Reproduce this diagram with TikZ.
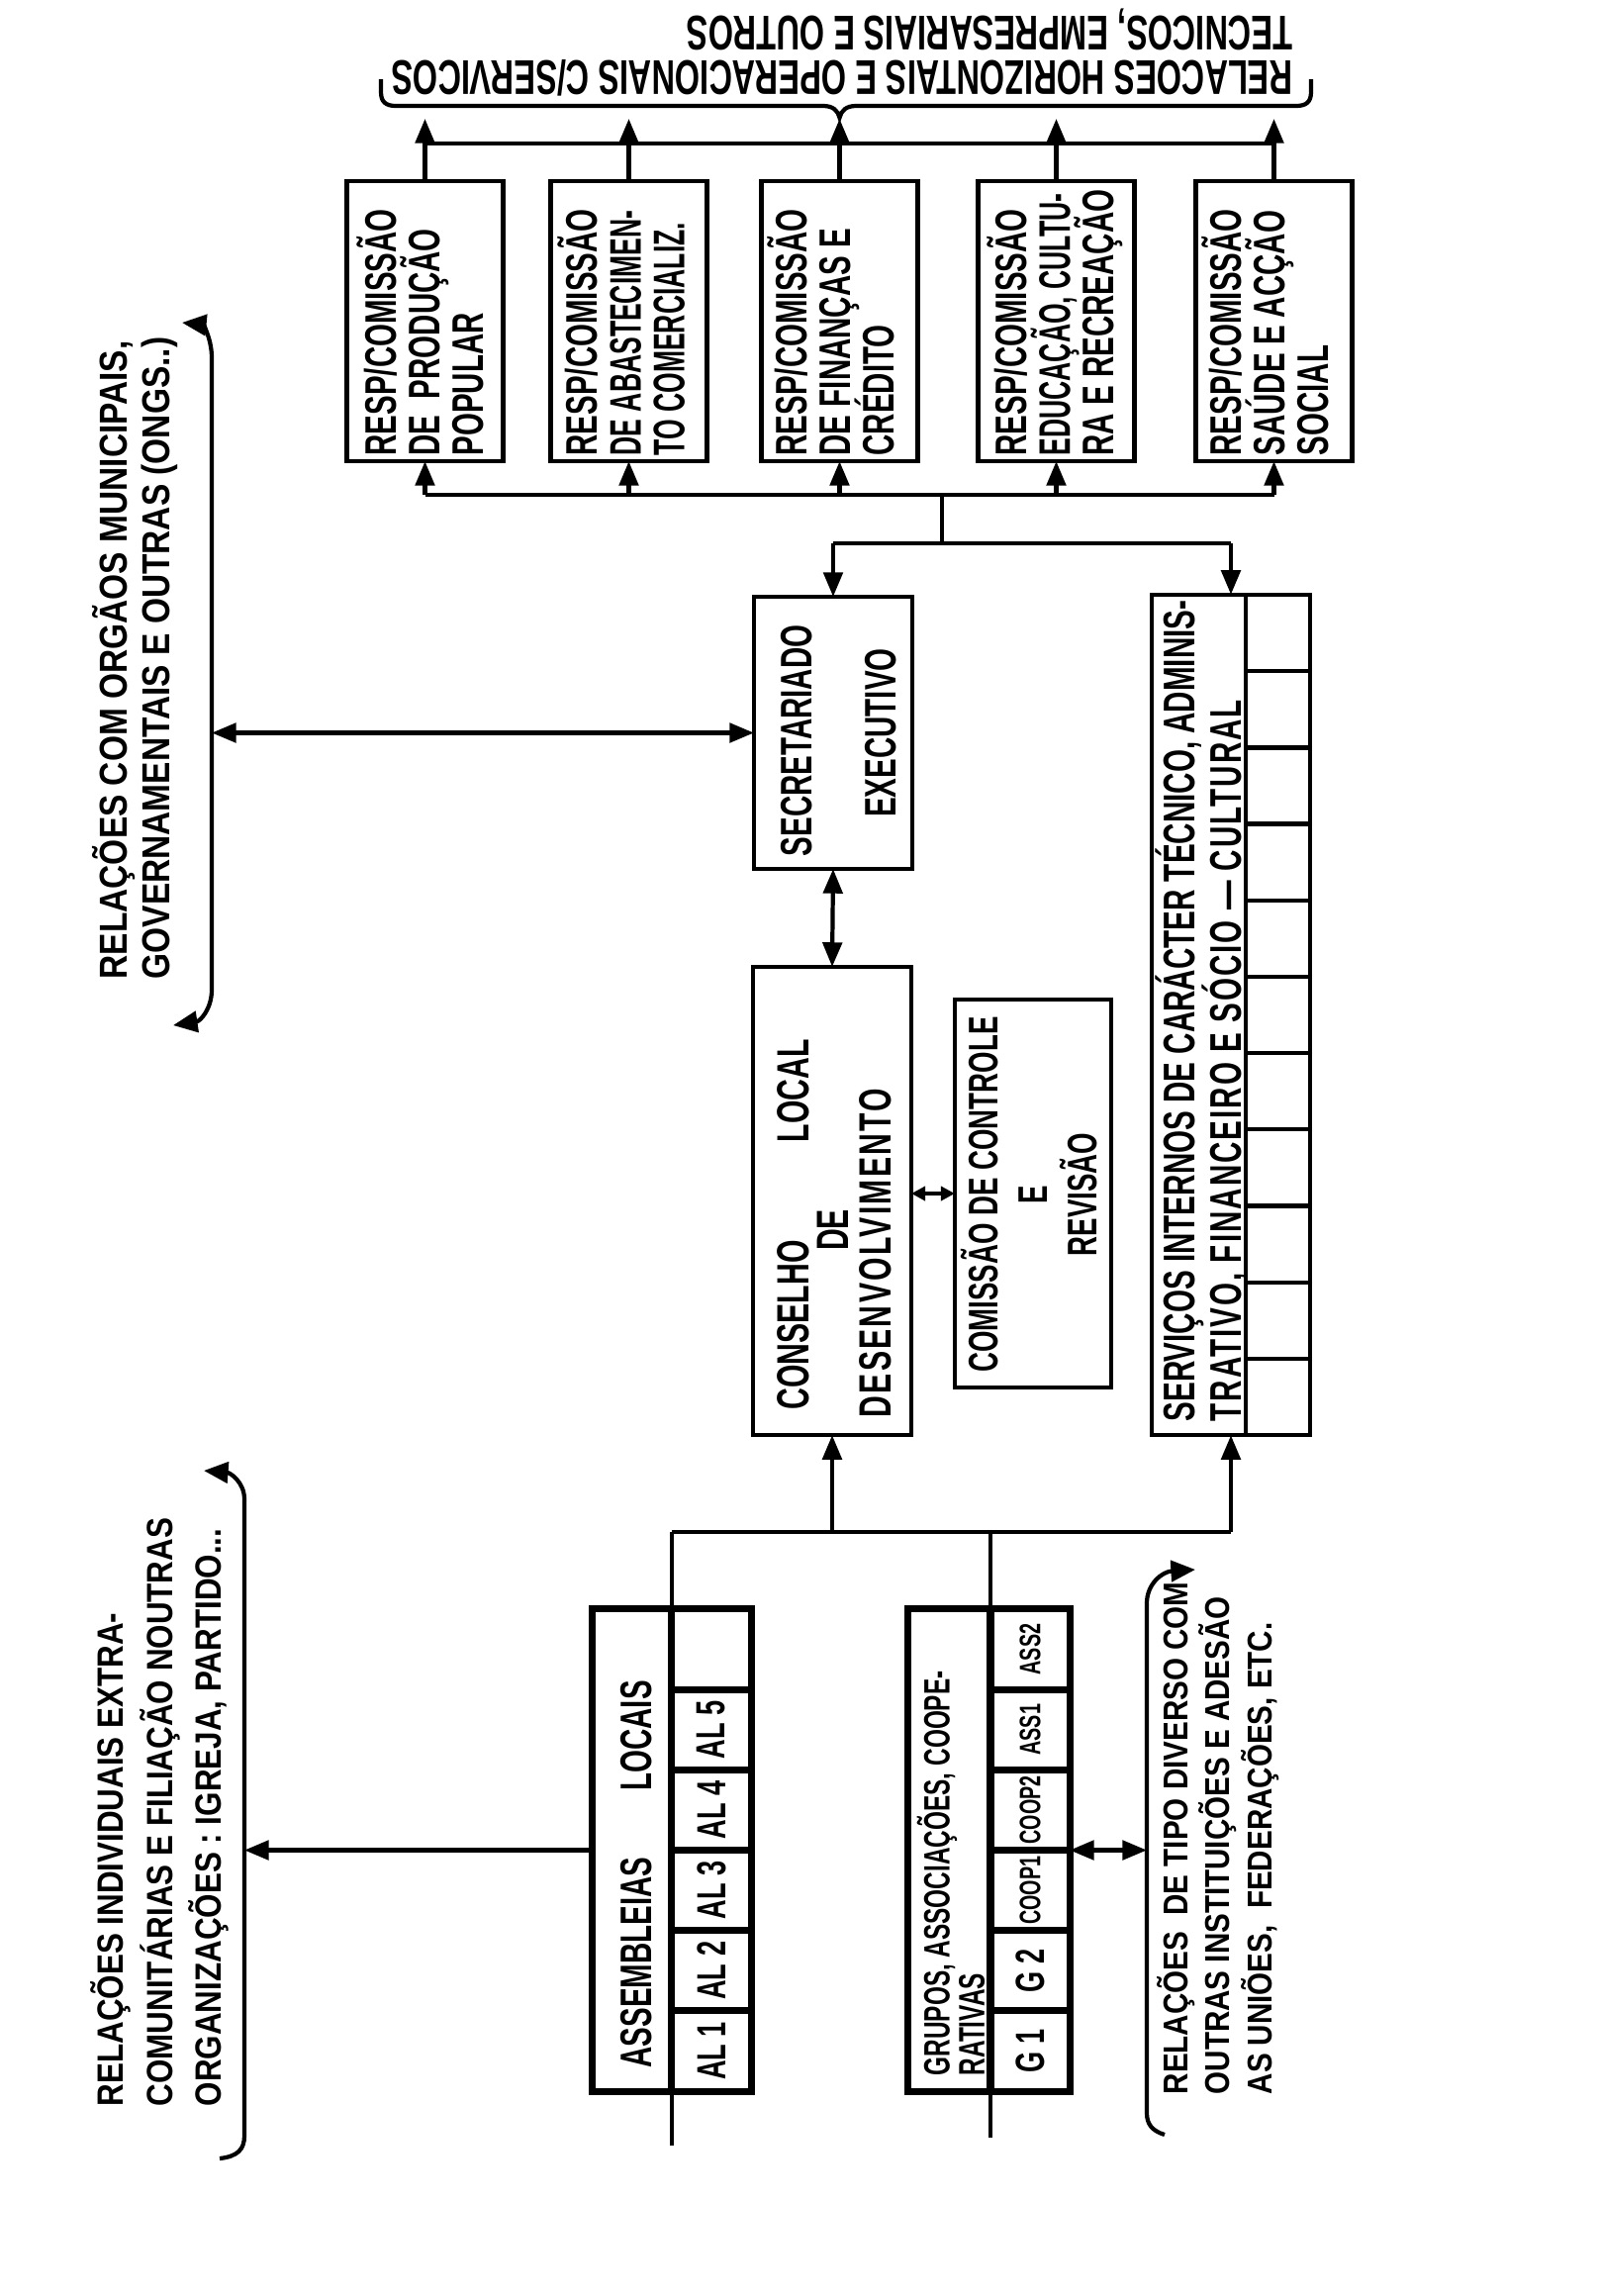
\documentclass[tikz,border=0pt]{standalone}
\usepackage{fontspec}
\setmainfont{Liberation Sans}[FakeStretch=0.66]
\newfontfamily\notefont{Liberation Sans}[FakeStretch=0.85]
\usetikzlibrary{arrows.meta}
\newcommand\tightlines{\lineskiplimit=-20pt\relax}

\begin{document}
\begin{tikzpicture}[x=0.01cm, y=-0.01cm,
    orgbox/.style={draw, line width=1.2pt, inner sep=0pt, outer sep=0pt},
    cellbox/.style={draw, line width=2pt, rotate=90, inner sep=0pt, outer sep=0pt, font=\fontsize{11.7}{12}\selectfont\bfseries},
    vlabel/.style={rotate=90, inner sep=0pt, align=left},
    lettering/.style 2 args={font=\fontsize{#1}{#2}\selectfont\bfseries\tightlines},
    notelettering/.style 2 args={font=\notefont\fontsize{#1}{#2}\selectfont\bfseries\tightlines},
    wire/.style={line width=1.2pt},
    link/.style={line width=1.2pt, -{Triangle[length=7pt,width=5.5pt]}},
    dlink/.style={line width=1.2pt, {Triangle[length=7pt,width=5.5pt]}-{Triangle[length=7pt,width=5.5pt]}}]
\useasboundingbox (0,0) rectangle (1616,2320);

\node[orgbox, minimum width=1.58cm, minimum height=2.83cm] (resp1) at (429.5,324.5) {};
\node[orgbox, minimum width=1.58cm, minimum height=2.83cm] (resp2) at (635.5,324.5) {};
\node[orgbox, minimum width=1.58cm, minimum height=2.83cm] (resp3) at (848.5,324.5) {};
\node[orgbox, minimum width=1.58cm, minimum height=2.83cm] (resp4) at (1067.5,324.5) {};
\node[orgbox, minimum width=1.58cm, minimum height=2.83cm] (resp5) at (1287.5,324.5) {};
\node[vlabel, lettering={12.7}{12.5}, anchor=west] (resp1txt) at (425,461) {RESP/COMISSÃO\\DE\ \ PRODUÇÃO\\POPULAR};
\node[vlabel, lettering={12.7}{12.5}, anchor=west] (resp2txt) at (628,461) {RESP/COMISSÃO\\\scalebox{0.9}[1]{DE ABASTECIMEN-}\\\scalebox{0.9}[1]{TO COMERCIALIZ.}};
\node[vlabel, lettering={12.7}{12.5}, anchor=west] (resp3txt) at (840,461) {RESP/COMISSÃO\\DE FINANÇAS E\\CRÉDITO};
\node[vlabel, lettering={12.7}{12.5}, anchor=west] (resp4txt) at (1066,461) {RESP/COMISSÃO\\\scalebox{0.9}[1]{EDUCAÇÃO, CULTU-}\\RA E RECREAÇÃO};
\node[vlabel, lettering={12.7}{12.5}, anchor=west] (resp5txt) at (1279,461) {RESP/COMISSÃO\\SAÚDE E ACÇÃO\\SOCIAL};

\node[orgbox, minimum width=1.6cm, minimum height=2.75cm] (secr) at (842,740.5) {};
\node[vlabel, lettering={12.7}{14}, anchor=west] (secrtxt) at (805,866) {SECRETARIADO};
\node[vlabel, lettering={12.7}{14}] (exectxt) at (890,740.5) {EXECUTIVO};

\node[orgbox, minimum width=1.6cm, minimum height=4.73cm] (cons) at (841,1213.5) {};
\node[vlabel, lettering={13}{14}, anchor=west] (constxt) at (802,1425) {CONSELHO};
\node[vlabel, lettering={13}{14}, anchor=west] (localtxt) at (802,1155) {LOCAL};
\node[vlabel, lettering={13}{14}] (detxt) at (842,1243) {DE};
\node[vlabel, lettering={13}{14}, anchor=west] (desentxt) at (885,1433) {\addfontfeature{LetterSpace=5}DESENVOLVIMENTO};

\node[orgbox, minimum width=1.58cm, minimum height=3.92cm] (comc) at (1044,1206) {};
\node[vlabel, align=center, lettering={11.9}{14.2}] (comctxt) at (1040,1207) {COMISSÃO DE CONTROLE\\E\\REVISÃO};

\node[orgbox, minimum width=1.6cm, minimum height=8.49cm] (serv) at (1244,1025.5) {};
\foreach \i in {1,...,11}
    \node[cellbox, line width=1.2pt, minimum width=0.7718cm, minimum height=0.65cm] (sc\i) at (1291.5,{601+77.18*(\i-0.5)}) {};
\node[vlabel, lettering={12.75}{13.4}, anchor=west] (servtxt) at (1214.5,1437) {SERVIÇOS INTERNOS DE CARÁCTER TÉCNICO, ADMINIS-\\{\addfontfeature{LetterSpace=4.5}TRATIVO, FINANCEIRO E SÓCIO — CULTURAL}};

\node[orgbox, line width=2pt, minimum width=1.6cm, minimum height=4.87cm] (asm) at (679,1869.5) {};
\foreach \lbl [count=\i] in {AL 1,AL 2,AL 3,AL 4,AL 5,{}}
    \node[cellbox, minimum width=0.8117cm, minimum height=0.8cm] (al\i) at (719,{2113-81.17*(\i-0.5)}) {\lbl};
\node[vlabel, lettering={12.7}{14}, anchor=west] (asmtxt) at (643,2090) {ASSEMBLEIAS\hspace{19pt}LOCAIS};

\node[orgbox, line width=2pt, minimum width=1.63cm, minimum height=4.87cm] (grp) at (999.5,1869.5) {};
\foreach \lbl/\sz [count=\i] in {G 1/11.7,G 2/11.7,COOP1/8.5,COOP2/8.5,ASS1/8.5,ASS2/8.5}
    \node[cellbox, minimum width=0.8117cm, minimum height=0.8cm, font=\fontsize{\sz}{\sz}\selectfont\bfseries] (g\i) at (1041,{2113-81.17*(\i-0.5)}) {\lbl};
\node[vlabel, lettering={10.5}{10}, anchor=west] (grptxt) at (961,2098) {GRUPOS, ASSOCIAÇÕES, COOPE-\\RATIVAS};

\node[inner sep=0pt, align=left, rotate=180, anchor=north west, lettering={14}{12.8}] (toptxt) at (1307,98) {RELACOES HORIZONTAIS E OPERACIONAIS C/SERVICOS\\TECNICOS, EMPRESARIAIS E OUTROS};
\node[vlabel, notelettering={11.2}{12.2}, anchor=west] (govtxt) at (136.5,990) {RELAÇÕES COM ORGÃOS MUNICIPAIS,\\GOVERNAMENTAIS E OUTRAS (ONGS..)};
\node[vlabel, notelettering={10.5}{14.1}, anchor=west] (indtxt) at (161.5,2129) {RELAÇÕES INDIVIDUAIS EXTRA-\\COMUNITÁRIAS E FILIAÇÃO NOUTRAS\\ORGANIZAÇÕES : IGREJA, PARTIDO...};
\node[vlabel, notelettering={9.9}{12}, anchor=west] (unitxt) at (1231,2117) {RELAÇÕES\ \ DE TIPO DIVERSO COM\\OUTRAS INSTITUIÇÕES E ADESÃO\\AS UNIÕES,\ \ FEDERAÇÕES, ETC.};

\coordinate (tipline) at (0,120);
\coordinate (topbus) at (0,145);
\coordinate (lowbus) at (0,500);
\coordinate (fork) at (952,549);
\coordinate (asmsplit) at (679,1548);
\coordinate (asmend) at (679,2168);
\coordinate (grpsplit) at (1001,1548);
\coordinate (grpend) at (1001,2160);
\coordinate (govline) at (214,0);
\coordinate (indline) at (247,0);
\coordinate (uniline) at (1159,0);

\draw[wire] (resp1.north |- topbus) -- (resp5.north |- topbus);
\foreach \i in {1,...,5}
    \draw[link] (resp\i.north) -- (resp\i.north |- tipline);
\draw[wire] (resp1.south |- lowbus) -- (resp5.south |- lowbus);
\foreach \i in {1,...,5}
    \draw[link] (resp\i.south |- lowbus) -- (resp\i.south);
\draw[wire] (fork |- lowbus) -- (fork);
\draw[wire] (fork -| secr.north) -- (fork -| serv.north);
\draw[link] (fork -| secr.north) -- (secr.north);
\draw[link] (fork -| serv.north) -- (serv.north);
\draw[dlink] (secr.south) -- (cons.north);
\draw[line width=1.2pt, {Triangle[length=4pt,width=4pt]}-{Triangle[length=4pt,width=4pt]}] (comc.west -| cons.east) -- (comc.west);

\draw[wire] (asmsplit) -- (asmend);
\draw[wire] (grpsplit) -- (grpend);
\draw[wire] (asmsplit) -- (asmsplit -| serv.south);
\draw[link] (asmsplit -| cons.south) -- (cons.south);
\draw[link] (asmsplit -| serv.south) -- (serv.south);

\draw[dlink] (secr.west -| govline) -- (secr.west);
\draw[link] (asm.west) -- (asm.west -| indline);
\draw[dlink] (grp.east) -- (grp.east -| uniline);

\draw[wire] (385,80) -- (385,93) .. controls (385,103) and (390,107) .. (400,107) -- (832,107) .. controls (842,107) and (847,112) .. (848.5,119) .. controls (850,112) and (855,107) .. (865,107) -- (1310,107) .. controls (1320,107) and (1325,103) .. (1325,93) -- (1325,80);
\draw[wire, {Triangle[length=7pt,width=6pt]}-{Triangle[length=7pt,width=6pt]}] (184,326) .. controls (204,328) and (214,340) .. (214,362) -- (214,1000) .. controls (214,1020) and (202,1032) .. (175,1036);
\draw[wire, -{Triangle[length=7pt,width=6pt]}] (222,2181) .. controls (240,2179) and (247,2172) .. (247,2158) -- (247,1515) .. controls (247,1497) and (232,1488) .. (206,1486);
\draw[wire, -{Triangle[length=7pt,width=6pt]}] (1177,2157) .. controls (1164,2153) and (1159,2146) .. (1159,2135) -- (1159,1620) .. controls (1159,1600) and (1175,1588) .. (1208,1586);
\end{tikzpicture}
\end{document}
